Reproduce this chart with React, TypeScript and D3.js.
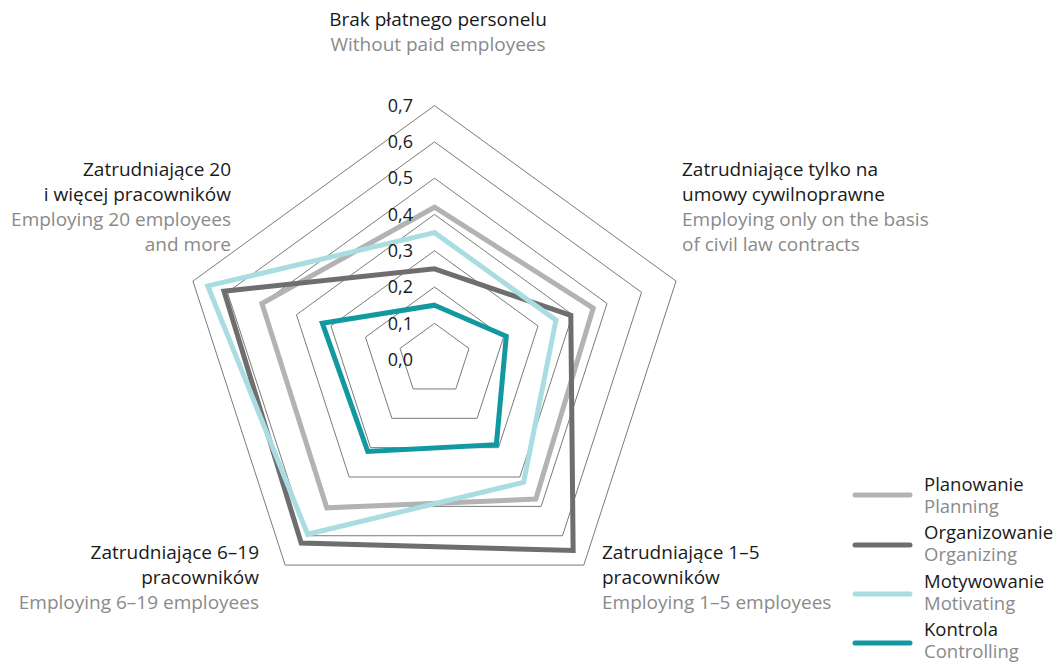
import React from "react";
import * as d3 from "d3";

const axisLabelsPl: string[][] = [
  ["Brak płatnego personelu"],
  ["Zatrudniające tylko na", "umowy cywilnoprawne"],
  ["Zatrudniające 1–5", "pracowników"],
  ["Zatrudniające 6–19", "pracowników"],
  ["Zatrudniające 20", "i więcej pracowników"],
];
const axisLabelsEn: string[][] = [
  ["Without paid employees"],
  ["Employing only on the basis", "of civil law contracts"],
  ["Employing 1–5 employees"],
  ["Employing 6–19 employees"],
  ["Employing 20 employees", "and more"],
];

const tickValues = [0, 0.1, 0.2, 0.3, 0.4, 0.5, 0.6, 0.7];
const tickLabels = ["0,0", "0,1", "0,2", "0,3", "0,4", "0,5", "0,6", "0,7"];

const planning = [0.42, 0.46, 0.475, 0.505, 0.5];
const organizing = [0.25, 0.395, 0.65, 0.625, 0.61];
const motivating = [0.35, 0.352, 0.418, 0.595, 0.657];
const controlling = [0.15, 0.208, 0.29, 0.313, 0.325];

const seriesNamesPl = ["Planowanie", "Organizowanie", "Motywowanie", "Kontrola"];
const seriesNamesEn = ["Planning", "Organizing", "Motivating", "Controlling"];
const seriesValues = [planning, organizing, motivating, controlling];
const seriesColors = ["#b3b3b3", "#6e6e6e", "#a9dde1", "#12989f"];

const FONT = "'Open Sans', sans-serif";
const BLACK = "#1a1a1a";
const GRAY = "#8a8a8a";

export default function App() {
  const W = 1061;
  const H = 663;
  const cx = 434.5;
  const cy = 359.6;
  const r = d3.scaleLinear().domain([0, 0.7]).range([0, 254]);
  const n = axisLabelsPl.length;
  const angle = d3.scaleLinear().domain([0, n]).range([0, 2 * Math.PI]);

  const pt = (i: number, v: number): [number, number] => {
    const a = angle(i);
    return [cx + r(v) * Math.sin(a), cy - r(v) * Math.cos(a)];
  };

  const closed = d3.line<[number, number]>().curve(d3.curveLinearClosed);

  const ringPath = (v: number) => closed(d3.range(n).map((i) => pt(i, v))) || "";
  const seriesPath = (vals: number[]) => closed(vals.map((v, i) => pt(i, v))) || "";

  // label layout per axis: x, first baseline y, anchor
  const labelLayout = [
    { x: 438, y: 26, anchor: "middle" },
    { x: 682, y: 176, anchor: "start" },
    { x: 602, y: 559, anchor: "start" },
    { x: 259, y: 559, anchor: "end" },
    { x: 231, y: 176, anchor: "end" },
  ];
  const lineH = 25;

  const legendX = 855;
  const legendTextX = 924;
  const legendLineY = [495, 545, 594, 643];
  const legendTextY = [491, 539, 588, 636];

  return (
    <svg
      width={W}
      height={H}
      style={{ position: "absolute", left: 0, top: 0, background: "#fff" }}
      fontFamily={FONT}
    >
      {tickValues
        .filter((v) => v > 0)
        .map((v) => (
          <path key={v} d={ringPath(v)} fill="none" stroke="#7a7a7a" strokeWidth={1} />
        ))}
      {seriesValues.map((vals, k) => (
        <path
          key={k}
          d={seriesPath(vals)}
          fill="none"
          stroke={seriesColors[k]}
          strokeWidth={5}
          strokeLinejoin="miter"
        />
      ))}
      {tickValues.map((v, i) => (
        <text
          key={v}
          x={413}
          y={cy - r(v)}
          dy="0.35em"
          textAnchor="end"
          fontSize={18}
          fill={BLACK}
        >
          {tickLabels[i]}
        </text>
      ))}
      {labelLayout.map((L, i) => {
        const lines = [
          ...axisLabelsPl[i].map((t) => ({ t, c: BLACK })),
          ...axisLabelsEn[i].map((t) => ({ t, c: GRAY })),
        ];
        return (
          <g key={i}>
            {lines.map((ln, j) => (
              <text
                key={j}
                x={L.x}
                y={L.y + j * lineH}
                textAnchor={L.anchor as any}
                fontSize={19}
                fill={ln.c}
              >
                {ln.t}
              </text>
            ))}
          </g>
        );
      })}
      {seriesNamesPl.map((name, k) => (
        <g key={name}>
          <line
            x1={legendX}
            x2={legendX + 55}
            y1={legendLineY[k]}
            y2={legendLineY[k]}
            stroke={seriesColors[k]}
            strokeWidth={5}
            strokeLinecap="round"
          />
          <text x={legendTextX} y={legendTextY[k]} fontSize={18.5} fill={BLACK}>
            {name}
          </text>
          <text x={legendTextX} y={legendTextY[k] + 22} fontSize={18.5} fill={GRAY}>
            {seriesNamesEn[k]}
          </text>
        </g>
      ))}
    </svg>
  );
}
